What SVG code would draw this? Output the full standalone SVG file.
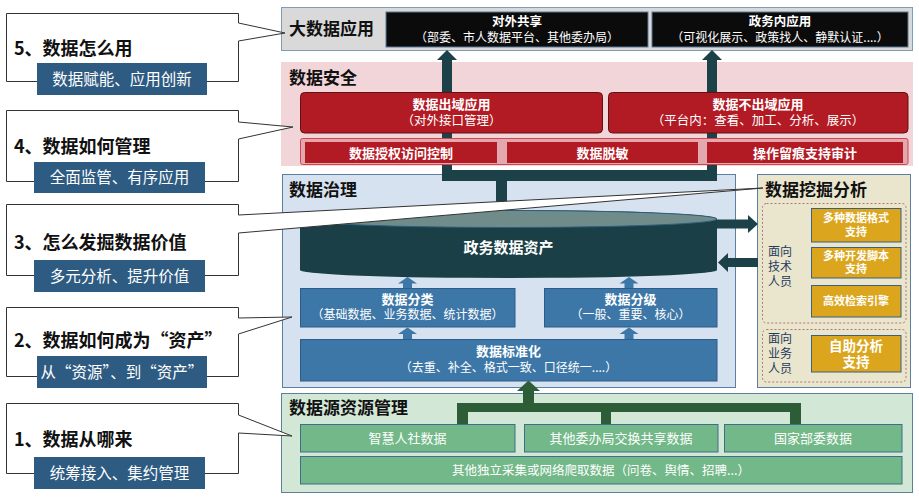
<svg xmlns="http://www.w3.org/2000/svg" width="919" height="502" viewBox="0 0 919 502">
<style>
text{font-family:'Noto Sans CJK SC','Noto Sans',sans-serif;}
.co{fill:#fff;stroke:#333;stroke-width:1;}
.lbl{fill:#2E5B82;}
.ct{font-size:18px;font-weight:bold;fill:#111;}
.lt{font-size:15.5px;fill:#fff;text-anchor:middle;}
.pt{font-size:17px;font-weight:bold;fill:#111;}
.wb{fill:#fff;text-anchor:middle;font-weight:bold;}
.wn{fill:#fff;text-anchor:middle;}
.blk{fill:#0B0B0B;stroke:#5B7A99;stroke-width:1;}
.red{fill:#B31B24;stroke:#5E1212;stroke-width:1;}
.teal{fill:#1C4148;}
.blue{fill:#3D77A8;stroke:#2C5C88;stroke-width:1;}
.barr{fill:#3D77A8;}
.yel{fill:#DBA61E;stroke:#3F5F7F;stroke-width:1;}
.grn{fill:#72B888;stroke:#3E6E8C;stroke-width:1;}
.dg{fill:#2D5D37;}
.dash{fill:none;stroke:#B07575;stroke-width:1;stroke-dasharray:2,2;}
.vt{font-size:12px;fill:#1F3A5F;}
</style>
<rect width="919" height="502" fill="#fff"/>

<g id="bigdata-app">
<rect x="281.5" y="7.5" width="631" height="43" fill="#D9D9D9" stroke="#7F9CB8"/>
<text class="pt" x="289" y="35">大数据应用</text>
<g id="ext-share">
<rect class="blk" x="386" y="12" width="262" height="35"/>
<text class="wb" x="517" y="26" font-size="12.5">对外共享</text>
<text class="wn" x="517" y="42" font-size="12">（部委、市人数据平台、其他委办局）</text>
</g>
<g id="gov-app">
<rect class="blk" x="652" y="12" width="256" height="35"/>
<text class="wb" x="780" y="26" font-size="12.5">政务内应用</text>
<text class="wn" x="780" y="42" font-size="12">（可视化展示、政策找人、静默认证....）</text>
</g>
</g>

<g id="security-bg">
<rect x="281" y="62" width="632" height="104" fill="#F2D5D8"/>
<text class="pt" x="289" y="84">数据安全</text>
</g>

<g id="governance-bg">
<rect x="282.5" y="174.5" width="453" height="213" fill="#D6E2EF" stroke="#5B7FA3"/>
<text class="pt" x="289" y="196">数据治理</text>
</g>

<g id="mining-bg">
<rect x="757.5" y="174.5" width="153" height="213" fill="#E9E6CD" stroke="#5A7FA2"/>
<text class="pt" x="765" y="196">数据挖掘分析</text>
</g>

<g id="source-bg">
<rect x="281.5" y="393.5" width="631" height="99" fill="#D3E7D7" stroke="#5D7F9A"/>
<text class="pt" x="289" y="414">数据源资源管理</text>
</g>

<g id="connectors">
<rect class="teal" x="442" y="58" width="10" height="123"/>
<rect class="teal" x="707" y="58" width="10" height="123"/>
<rect class="teal" x="442" y="170" width="275" height="11"/>
<rect class="teal" x="496" y="180" width="11" height="24"/>
<polygon class="teal" points="447,50 437,60 457,60"/>
<polygon class="teal" points="712,50 702,60 722,60"/>
<polygon class="teal" points="716,219.5 748,219.5 748,215 758,224 748,233 748,228.5 716,228.5"/>
<polygon class="teal" points="758,258 728,258 728,253 718,262.5 728,272 728,267 758,267"/>
<polygon class="barr" points="407.5,277 398,283.5 403,283.5 403,288 412,288 412,283.5 417,283.5"/>
<polygon class="barr" points="629,277 619.5,283.5 624.5,283.5 624.5,288 633.5,288 633.5,283.5 638.5,283.5"/>
<polygon class="barr" points="407.5,327.5 398,334 403,334 403,339 412,339 412,334 417,334"/>
<polygon class="barr" points="629,327.5 619.5,334 624.5,334 624.5,339 633.5,339 633.5,334 638.5,334"/>
<rect class="dg" x="457" y="403" width="344" height="9"/>
<rect class="dg" x="457" y="403" width="11" height="22"/>
<rect class="dg" x="601" y="403" width="10" height="22"/>
<rect class="dg" x="790" y="403" width="11" height="22"/>
<rect class="dg" x="523" y="389" width="11" height="16"/>
<polygon class="dg" points="528.5,380.5 517,391 540,391"/>
</g>

<g id="out-domain">
<rect class="red" x="300.5" y="92.5" width="302" height="40.5" rx="4"/>
<text class="wb" x="451.5" y="109" font-size="13">数据出域应用</text>
<text class="wn" x="451.5" y="125" font-size="12.5">（对外接口管理）</text>
</g>
<g id="in-domain">
<rect class="red" x="608.5" y="92.5" width="299.5" height="40.5" rx="4"/>
<text class="wb" x="758" y="109" font-size="13">数据不出域应用</text>
<text class="wn" x="758" y="125" font-size="12.5">（平台内：查看、加工、分析、展示）</text>
</g>
<g id="security-strip">
<rect x="300.5" y="138.5" width="607.5" height="26" rx="2" fill="#E3A8AD" stroke="#D0454E"/>
<rect x="305" y="142" width="192" height="21" fill="#B31B24"/>
<rect x="507" y="142" width="191" height="21" fill="#B31B24"/>
<rect x="707" y="142" width="196" height="21" fill="#B31B24"/>
<text class="wb" x="401" y="157.5" font-size="13">数据授权访问控制</text>
<text class="wb" x="602.5" y="157.5" font-size="13">数据脱敏</text>
<text class="wb" x="805" y="157.5" font-size="13">操作留痕支持审计</text>
</g>

<g id="asset">
<path d="M300,219 A208.5,9 0 0 1 717,219 V270 A208.5,8 0 0 1 300,270 Z" fill="#1A3F46"/>
<ellipse cx="508.5" cy="219" rx="208.5" ry="8.5" fill="#6F8B8A" stroke="#2E5E80" stroke-width="1"/>
<text class="wb" x="508.5" y="253" font-size="15">政务数据资产</text>
</g>
<g id="classify">
<rect class="blue" x="300.5" y="288.5" width="214.5" height="38.5"/>
<text class="wb" x="407.5" y="304" font-size="13">数据分类</text>
<text class="wn" x="407.5" y="319" font-size="12">（基础数据、业务数据、统计数据）</text>
</g>
<g id="grade">
<rect class="blue" x="544.5" y="288.5" width="172.5" height="38.5"/>
<text class="wb" x="630.5" y="304" font-size="13">数据分级</text>
<text class="wn" x="630.5" y="319" font-size="12">（一般、重要、核心）</text>
</g>
<g id="standardize">
<rect class="blue" x="300.5" y="339.5" width="416.5" height="41.5"/>
<text class="wb" x="508.5" y="356" font-size="13">数据标准化</text>
<text class="wn" x="508.5" y="372" font-size="12">（去重、补全、格式一致、口径统一....）</text>
</g>

<g id="tech-group">
<rect class="dash" x="762.5" y="203.5" width="143.5" height="119.5" rx="4"/>
<text class="vt" x="768" y="256">面向</text>
<text class="vt" x="768" y="271">技术</text>
<text class="vt" x="768" y="286">人员</text>
<g id="multi-format">
<rect class="yel" x="811.5" y="208.5" width="89.5" height="33.5"/>
<text class="wb" x="856" y="222" font-size="11">多种数据格式</text>
<text class="wb" x="856" y="236" font-size="11">支持</text>
</g>
<g id="multi-script">
<rect class="yel" x="811.5" y="247.5" width="89.5" height="30.5"/>
<text class="wb" x="856" y="260" font-size="11">多种开发脚本</text>
<text class="wb" x="856" y="273" font-size="11">支持</text>
</g>
<g id="search-engine">
<rect class="yel" x="811.5" y="285.5" width="89.5" height="31.5"/>
<text class="wb" x="856" y="305" font-size="11">高效检索引擎</text>
</g>
</g>
<g id="biz-group">
<rect class="dash" x="762.5" y="329.5" width="143.5" height="52.5" rx="4"/>
<text class="vt" x="768" y="343">面向</text>
<text class="vt" x="768" y="358">业务</text>
<text class="vt" x="768" y="373">人员</text>
<g id="self-analysis">
<rect class="yel" x="811.5" y="335.5" width="89.5" height="36.5"/>
<text class="wb" x="856" y="351" font-size="13.5">自助分析</text>
<text class="wb" x="856" y="367" font-size="13.5">支持</text>
</g>
</g>

<g id="src-hr">
<rect class="grn" x="300.5" y="424.5" width="214.5" height="27.5"/>
<text class="wn" x="407.5" y="443" font-size="13">智慧人社数据</text>
</g>
<g id="src-exchange">
<rect class="grn" x="524.5" y="424.5" width="193.5" height="27.5"/>
<text class="wn" x="621" y="443" font-size="13">其他委办局交换共享数据</text>
</g>
<g id="src-national">
<rect class="grn" x="724.5" y="424.5" width="177.5" height="27.5"/>
<text class="wn" x="813" y="443" font-size="13">国家部委数据</text>
</g>
<g id="src-other">
<rect class="grn" x="300.5" y="456.5" width="601.5" height="27.5"/>
<text class="wn" x="601" y="475" font-size="12.5">其他独立采集或网络爬取数据（问卷、舆情、招聘...）</text>
</g>

<g id="callout-5">
<path class="co" d="M6.5,13.5 H238.5 V23 L285,33 L238.5,41 V81.5 H6.5 Z"/>
<text class="ct" x="14" y="55">5、数据怎么用</text>
<rect class="lbl" x="37" y="63" width="170" height="32"/>
<text class="lt" x="122" y="84.5">数据赋能、应用创新</text>
</g>
<g id="callout-4">
<path class="co" d="M6.5,110.5 H238.5 V122 L293,127 L238.5,139 V181.5 H6.5 Z"/>
<text class="ct" x="14" y="153">4、数据如何管理</text>
<rect class="lbl" x="34" y="162" width="171" height="31"/>
<text class="lt" x="119.5" y="183">全面监管、有序应用</text>
</g>
<g id="callout-3">
<path class="co" d="M6.5,204.5 H238.5 V215 L763,188 L238.5,233 V275.5 H6.5 Z"/>
<text class="ct" x="14" y="249">3、怎么发掘数据价值</text>
<rect class="lbl" x="34" y="260" width="171" height="32"/>
<text class="lt" x="119.5" y="281.5">多元分析、提升价值</text>
</g>
<g id="callout-2">
<path class="co" d="M6.5,307.5 H238.5 V318 L292,317 L238.5,334 V376.5 H6.5 Z"/>
<text class="ct" x="14" y="347">2、数据如何成为“资产”</text>
<rect class="lbl" x="37" y="356" width="170" height="32"/>
<text class="lt" x="122" y="377.5">从“资源”、到“资产”</text>
</g>
<g id="callout-1">
<path class="co" d="M6.5,403.5 H238.5 V415 L292,436 L238.5,433 V473.5 H6.5 Z"/>
<text class="ct" x="14" y="446">1、数据从哪来</text>
<rect class="lbl" x="34" y="457" width="171" height="32"/>
<text class="lt" x="119.5" y="478.5">统筹接入、集约管理</text>
</g>
</svg>
